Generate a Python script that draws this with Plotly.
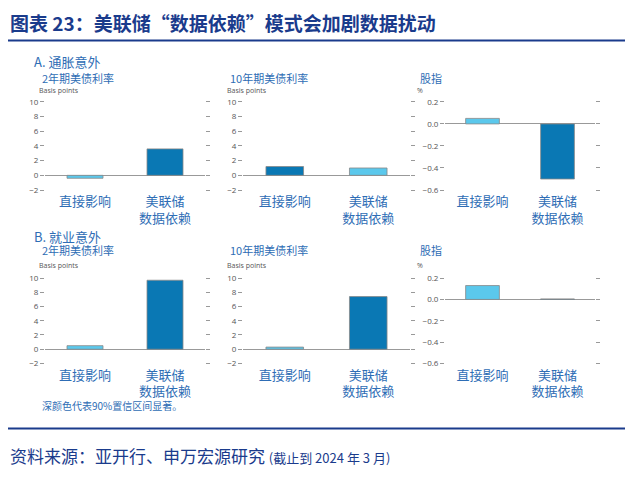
import plotly.graph_objects as go

categories = ["直接影响", "美联储<br>数据依赖"]
panel_titles = ["2年期美债利率", "10年期美债利率", "股指"]
units = ["Basis points", "Basis points", "%"]
infl_values = [[-0.4, 3.6], [1.2, 1.0], [0.05, -0.5]]
jobs_values = [[0.5, 9.7], [0.3, 7.4], [0.13, 0.005]]
bp_ticks = [10, 8, 6, 4, 2, 0, -2]
pct_ticks = [0.2, 0.0, -0.2, -0.4, -0.6]

# page has an 8px body margin, so size the figure to fit the window
W, H = 617, 464
light, dark = "#5bc8ec", "#0a78b4"
blue = "#2e6db5"
colors = [[[light, dark], [dark, light], [light, dark]],
          [[light, dark], [light, dark], [light, dark]]]


def px(p):
    return (p - 8) / W


def py(p):
    return 1 - (p - 8) / H


fig = go.Figure()

cols = [(45, 205), (243, 410), (445, 595)]
title_x = [40, 228, 418]
rows = [(97, 191), (276, 367)]
title_y = [75, 250]
unit_y = [88, 265]

n = 0
for r, vals in enumerate([infl_values, jobs_values]):
    for c, v in enumerate(vals):
        n += 1
        ax = "" if n == 1 else str(n)
        fig.add_trace(go.Bar(
            x=categories, y=v, xaxis="x" + ax, yaxis="y" + ax,
            marker=dict(color=colors[r][c], line=dict(color="#888", width=0.8)),
            width=0.45, showlegend=False))
        x0, x1 = cols[c]
        yt, yb = rows[r]
        if c < 2:
            rng, tv = [-2.3, 10.3], bp_ticks
            tt = [str(t) if t >= 0 else "−2" for t in tv]
        else:
            rng, tv = [-0.62, 0.22], pct_ticks
            tt = [("−" if t < 0 else "") + "%.1f" % abs(t) for t in tv]
        fig.layout["xaxis" + ax] = dict(
            domain=[px(x0), px(x1)], anchor="y" + ax, showline=False,
            tickfont=dict(size=13, color=blue, family="Noto Sans CJK SC"),
            ticks="", showgrid=False, fixedrange=True)
        fig.layout["yaxis" + ax] = dict(
            domain=[py(yb), py(yt)], anchor="x" + ax, range=rng,
            tickvals=tv, ticktext=tt, ticks="outside", ticklen=4,
            tickcolor="#999", mirror="ticks", showline=False, showgrid=False,
            zeroline=True, zerolinecolor="#999", zerolinewidth=1,
            tickfont=dict(size=8, color="#555"), fixedrange=True)
        fig.add_annotation(x=px(title_x[c]), y=py(title_y[r]), xref="paper", yref="paper",
                           text=panel_titles[c], showarrow=False, xanchor="left", yanchor="middle",
                           font=dict(size=11, color=blue, family="Noto Sans CJK SC"))
        fig.add_annotation(x=px(title_x[c] - 3), y=py(unit_y[r]), xref="paper", yref="paper",
                           text=units[c], showarrow=False, xanchor="left", yanchor="middle",
                           font=dict(size=7, color="#555"))

for txt, p in [("A. 通胀意外", 58), ("B. 就业意外", 236)]:
    fig.add_annotation(x=px(32), y=py(p), xref="paper", yref="paper", text=txt,
                       showarrow=False, xanchor="left", yanchor="middle",
                       font=dict(size=13, color=blue, family="Noto Sans CJK SC"))

fig.add_annotation(x=px(40), y=py(408), xref="paper", yref="paper", text="深颜色代表90%置信区间显著。",
                   showarrow=False, xanchor="left", yanchor="middle",
                   font=dict(size=10, color=blue, family="Noto Sans CJK SC"))
fig.add_annotation(x=px(8), y=py(19), xref="paper", yref="paper",
                   text="<b>图表 23：美联储“数据依赖”模式会加剧数据扰动</b>", showarrow=False,
                   xanchor="left", yanchor="middle",
                   font=dict(size=19, color="#1a3b8c", family="Noto Sans CJK SC"))
fig.add_annotation(x=px(8), y=py(458), xref="paper", yref="paper",
                   text="资料来源：亚开行、申万宏源研究 <span style='font-size:13px'>(截止到 2024 年 3 月)</span>",
                   showarrow=False, xanchor="left", yanchor="middle",
                   font=dict(size=17, color="#1a3b8c", family="Noto Sans CJK SC"))
for p in [37, 431]:
    fig.add_shape(type="line", xref="paper", yref="paper", x0=0, x1=1,
                  y0=py(p), y1=py(p), line=dict(color="#1a3b8c", width=2))

fig.update_layout(width=W, height=H, margin=dict(l=0, r=0, t=0, b=0),
                  plot_bgcolor="white", paper_bgcolor="white", bargap=0.3)
fig.write_html("out.html")
